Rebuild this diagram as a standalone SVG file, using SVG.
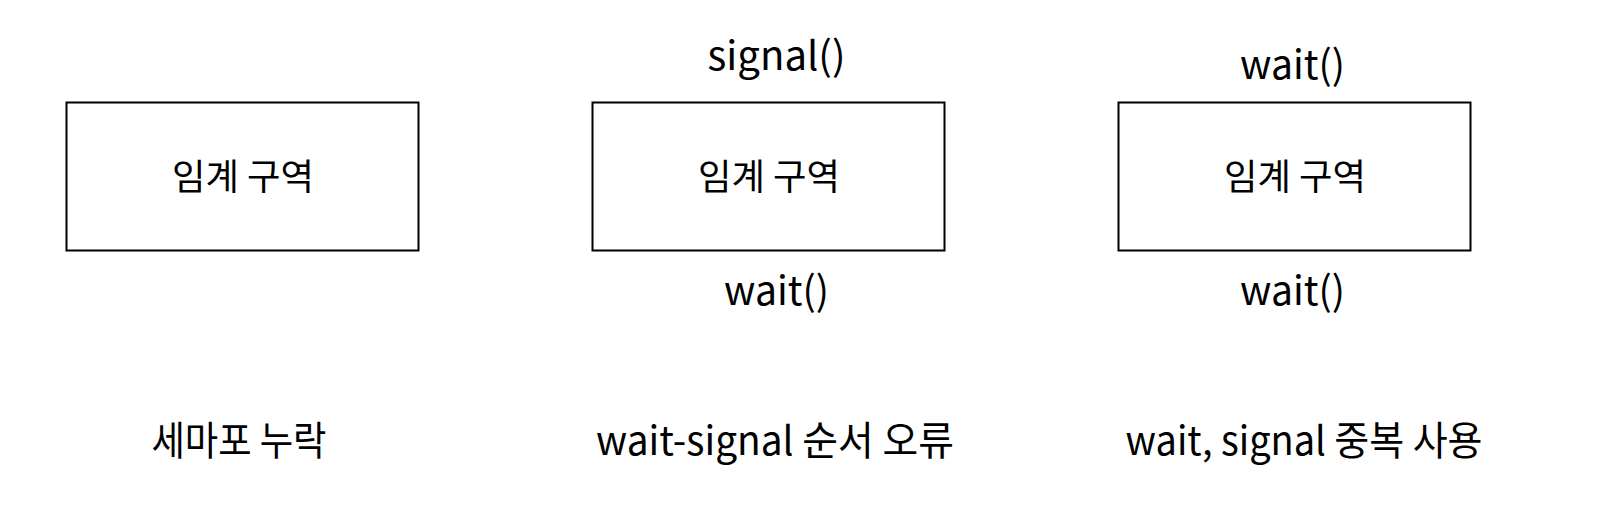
<svg xmlns="http://www.w3.org/2000/svg" width="1600" height="508" viewBox="0 0 1600 508">
<style>
.box{fill:#fff;stroke:#000;stroke-width:2}
.t{font-family:"Noto Sans CJK KR","Noto Sans",sans-serif;font-size:36px;fill:#000;text-anchor:middle}
.s{font-family:"Noto Sans CJK KR","Noto Sans",sans-serif;font-size:40px;fill:#000;text-anchor:middle}
.l{font-family:"Noto Sans CJK KR","Noto Sans",sans-serif;font-size:40px;fill:#000;text-anchor:middle}
</style>
<rect width="1600" height="508" fill="#fff"/>
<g id="connectors"></g>
<g id="node1">
<rect class="box" x="66.5" y="102.5" width="352" height="148"/>
<text class="t" x="243" y="190" textLength="142" lengthAdjust="spacingAndGlyphs">임계 구역</text>
</g>
<g id="node2">
<rect class="box" x="592.5" y="102.5" width="352" height="148"/>
<text class="t" x="769" y="190" textLength="142" lengthAdjust="spacingAndGlyphs">임계 구역</text>
</g>
<g id="node3">
<rect class="box" x="1118.5" y="102.5" width="352" height="148"/>
<text class="t" x="1295" y="190" textLength="142" lengthAdjust="spacingAndGlyphs">임계 구역</text>
</g>
<g id="label-signal2"><text class="s" x="776.5" y="70" textLength="138" lengthAdjust="spacingAndGlyphs">signal()</text></g>
<g id="label-wait2"><text class="s" x="776.5" y="305" textLength="105" lengthAdjust="spacingAndGlyphs">wait()</text></g>
<g id="label-wait3top"><text class="s" x="1292.5" y="79" textLength="105" lengthAdjust="spacingAndGlyphs">wait()</text></g>
<g id="label-wait3bot"><text class="s" x="1292.5" y="305" textLength="105" lengthAdjust="spacingAndGlyphs">wait()</text></g>
<g id="caption1"><text class="l" x="239" y="455" textLength="175" lengthAdjust="spacingAndGlyphs">세마포 누락</text></g>
<g id="caption2"><text class="l" x="775" y="455" textLength="358" lengthAdjust="spacingAndGlyphs">wait-signal 순서 오류</text></g>
<g id="caption3"><text class="l" x="1304" y="455" textLength="357" lengthAdjust="spacingAndGlyphs">wait, signal 중복 사용</text></g>
</svg>
